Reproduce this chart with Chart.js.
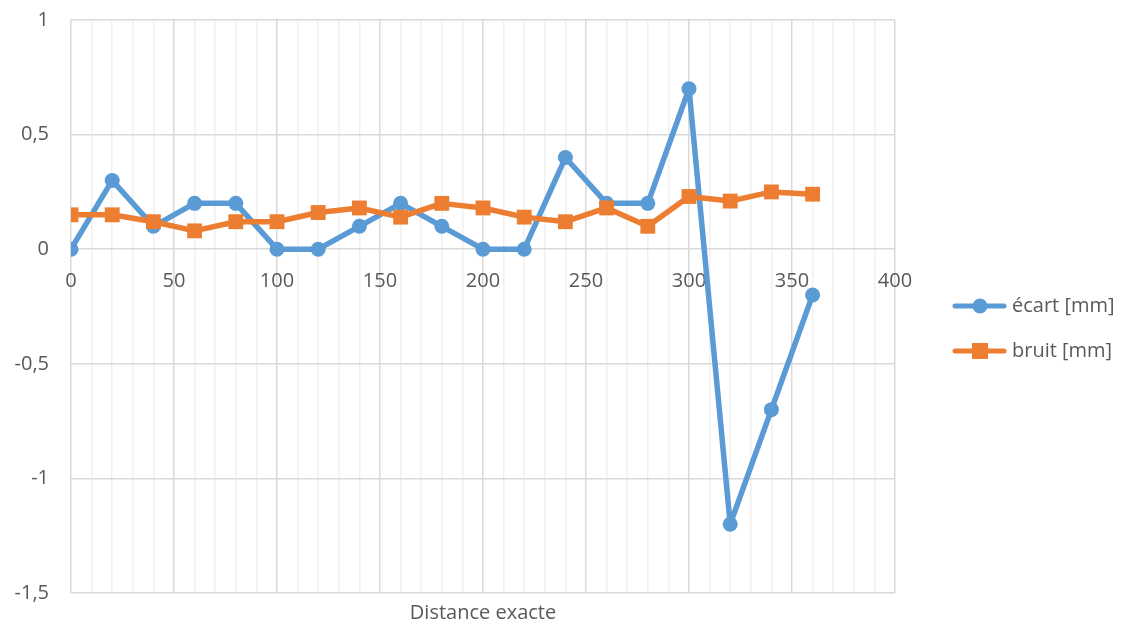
<!DOCTYPE html>
<html>
<head>
<meta charset="utf-8">
<script src="https://cdn.jsdelivr.net/npm/chart.js@4/dist/chart.umd.min.js"></script>
<style>
  html, body { margin: 0; padding: 0; background: #fff; }
  #wrap { width: 1123px; height: 625px; }
</style>
</head>
<body>
<div id="wrap"><canvas id="chart"></canvas></div>
<script>
// distances (x) and the two series
const distances = [0, 20, 40, 60, 80, 100, 120, 140, 160, 180, 200, 220, 240, 260, 280, 300, 320, 340, 360];
const ecart = [0, 0.3, 0.1, 0.2, 0.2, 0, 0, 0.1, 0.2, 0.1, 0, 0, 0.4, 0.2, 0.2, 0.7, -1.2, -0.7, -0.2];
const bruit = [0.15, 0.15, 0.12, 0.08, 0.12, 0.12, 0.16, 0.18, 0.14, 0.2, 0.18, 0.14, 0.12, 0.18, 0.1, 0.23, 0.21, 0.25, 0.24];
const seriesNames = ['écart [mm]', 'bruit [mm]'];
const xTickLabels = [0, 50, 100, 150, 200, 250, 300, 350, 400];
const yTickLabels = [-1.5, -1, -0.5, 0, 0.5, 1];

const BLUE = '#5B9BD5';
const ORANGE = '#ED7D31';
const TEXT = '#595959';
const FONT = "'Open Sans', 'DejaVu Sans', sans-serif";
const FSIZE = 20;

function toPoints(xs, ys) {
    return xs.map((x, i) => ({ x: x, y: ys[i] }));
}

// legend symbol: line with marker, drawn in the right part of a wider canvas
function legendIcon(color, shape) {
    const c = document.createElement('canvas');
    c.width = 92; c.height = 18;
    const g = c.getContext('2d');
    g.strokeStyle = color;
    g.lineWidth = 5;
    g.lineCap = 'round';
    g.beginPath(); g.moveTo(40, 9); g.lineTo(89, 9); g.stroke();
    g.fillStyle = color;
    if (shape === 'circle') {
        g.beginPath(); g.arc(65, 9, 7.5, 0, Math.PI * 2); g.fill();
    } else {
        g.fillRect(57, 1, 16, 16);
    }
    return c;
}
const icons = [legendIcon(BLUE, 'circle'), legendIcon(ORANGE, 'rect')];

const isMult = (v, step) => Math.abs(Math.round(v / step) * step - v) < 1e-6;
const fmt = v => String(Math.round(v * 10) / 10).replace('.', ',');

// keep the legend column at a fixed width so the plot ends where it should
const legendWidth = {
    id: 'legendWidth',
    beforeLayout(chart) {
        const lg = chart.legend;
        if (lg && !lg._fixed) {
            const fit = lg.fit.bind(lg);
            lg.fit = function () { fit(); this.width = 228; };
            lg._fixed = true;
        }
    }
};

new Chart(document.getElementById('chart'), {
    type: 'scatter',
    data: {
        datasets: [{
            label: seriesNames[0],
            data: toPoints(distances, ecart),
            showLine: true,
            borderColor: BLUE,
            backgroundColor: BLUE,
            borderWidth: 5.5,
            borderJoinStyle: 'round',
            pointStyle: 'circle',
            pointRadius: 7.5,
            pointBorderWidth: 0,
            order: 2
        }, {
            label: seriesNames[1],
            data: toPoints(distances, bruit),
            showLine: true,
            borderColor: ORANGE,
            backgroundColor: ORANGE,
            borderWidth: 5.5,
            borderJoinStyle: 'round',
            pointStyle: 'rect',
            pointRadius: 10.5,
            pointBorderWidth: 0,
            order: 1
        }]
    },
    plugins: [legendWidth],
    options: {
        responsive: true,
        maintainAspectRatio: false,
        animation: false,
        layout: { padding: { top: 20, right: 0 } },
        plugins: {
            tooltip: { enabled: false },
            legend: {
                position: 'right',
                title: {
                    display: true,
                    text: ' ',
                    font: { size: 10 },
                    padding: { top: 0, bottom: 0 }
                },
                labels: {
                    usePointStyle: true,
                    pointStyleWidth: 82,
                    padding: 25,
                    color: TEXT,
                    font: { family: FONT, size: FSIZE },
                    generateLabels: chart => chart.data.datasets.map((ds, i) => ({
                        text: ds.label,
                        pointStyle: icons[i],
                        fontColor: TEXT,
                        datasetIndex: i,
                        hidden: false,
                        lineWidth: 0
                    }))
                }
            }
        },
        scales: {
            x: {
                type: 'linear',
                position: 'bottom',
                min: 0,
                max: 400,
                afterFit: s => { s.height = 32; s.paddingLeft = 0; s.paddingRight = 0; },
                ticks: {
                    stepSize: 10,
                    display: false
                },
                grid: {
                    drawTicks: false,
                    color: ctx => isMult(ctx.tick.value, 50) ? '#d9d9d9' : '#f0f0f0',
                    lineWidth: 1.5
                },
                border: { display: false },
                title: {
                    display: true,
                    text: 'Distance exacte',
                    color: TEXT,
                    font: { family: FONT, size: FSIZE },
                    padding: { top: 0, bottom: 0 }
                }
            },
            xLabels: {
                type: 'linear',
                position: { y: 0 },
                min: 0,
                max: 400,
                afterBuildTicks: s => { s.ticks = xTickLabels.map(v => ({ value: v })); },
                ticks: {
                    color: TEXT,
                    font: { family: FONT, size: FSIZE },
                    padding: 20,
                    callback: v => fmt(v)
                },
                grid: { display: false, drawTicks: false },
                border: { display: false }
            },
            y: {
                type: 'linear',
                min: -1.5,
                max: 1,
                afterFit: s => { s.width = 71; s.paddingTop = 0; s.paddingBottom = 0; },
                ticks: {
                    stepSize: 0.1,
                    color: TEXT,
                    font: { family: FONT, size: FSIZE },
                    padding: 22,
                    callback: v => yTickLabels.some(t => Math.abs(t - v) < 1e-6) ? fmt(v) : null
                },
                grid: {
                    drawTicks: false,
                    color: ctx => isMult(ctx.tick.value, 0.5) ? '#d9d9d9' : '#f0f0f0',
                    lineWidth: 1.5
                },
                border: { display: false }
            }
        }
    }
});
</script>
</body>
</html>
